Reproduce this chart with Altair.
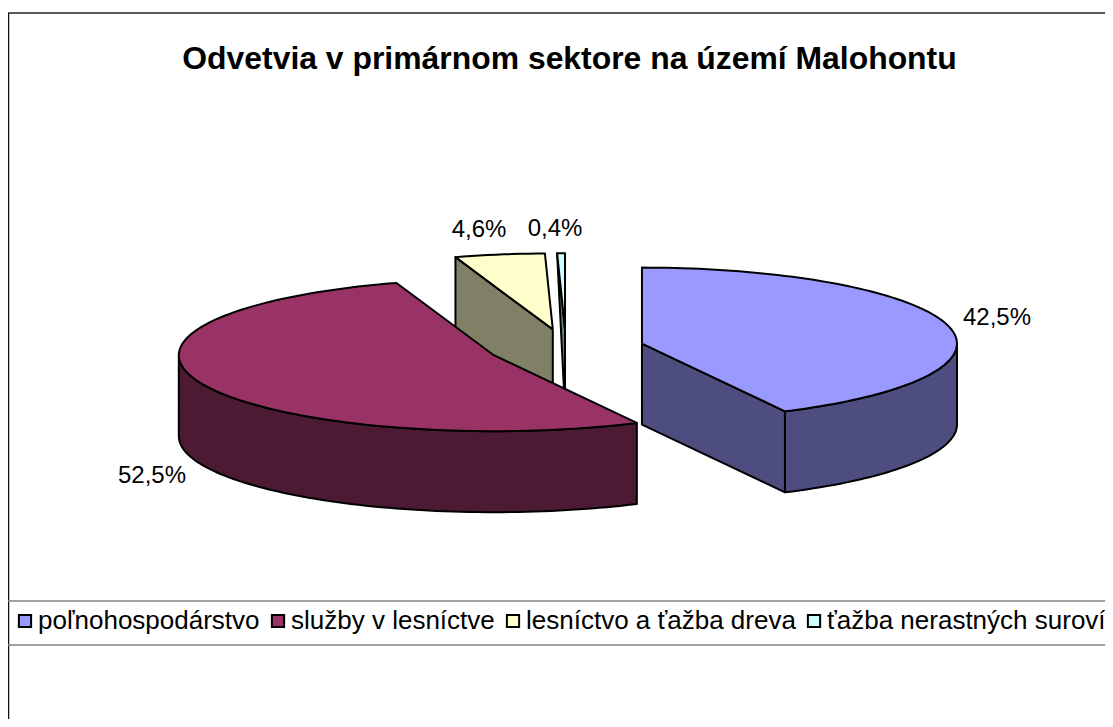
import math
import altair as alt
import pandas as pd

categories = ["poľnohospodárstvo", "služby v lesníctve", "lesníctvo a ťažba dreva", "ťažba nerastných surovín"]
shares = [42.5, 52.5, 4.6, 0.4]
top_colors = ["#9999FF", "#993366", "#FFFFCC", "#CCFFFF"]
wall_colors = ["#4D4D80", "#4D1A33", "#808066", "#668080"]
title_text = "Odvetvia v primárnom sektore na území Malohontu"
percent_labels = ["42,5%", "52,5%", "4,6%", "0,4%"]
label_x = [997, 152, 479, 555]
label_y = [318, 476, 230, 229]

# projection of the exploded 3-D pie
CX, CY, RX, RY, DEPTH, EXPLODE = 566, 348, 315, 76, 81, 0.248
W, H = 1097, 711


def pt(cx, cy, deg, r=1.0, dz=0):
    a = math.radians(deg)
    return (cx + RX * r * math.sin(a), cy - RY * r * math.cos(a) + dz)


starts, acc = [], 0.0
for s in shares:
    starts.append(acc)
    acc += s * 3.6

rows = []


def poly(name, series, points):
    pts = list(points) + [points[0]]
    for i, (x, y) in enumerate(pts):
        rows.append({"poly": name, "series": series, "i": i, "x": x, "y": y})


def arc(cx, cy, a0, a1, dz=0):
    n = max(2, int(abs(a1 - a0) / 1.5))
    return [pt(cx, cy, a0 + (a1 - a0) * k / n, dz=dz) for k in range(n + 1)]


for idx in [3, 2, 0, 1]:
    name = categories[idx]
    wall = name + " (stena)"
    a0 = starts[idx]
    a1 = a0 + shares[idx] * 3.6
    ax, ay = pt(CX, CY, (a0 + a1) / 2, EXPLODE)
    apex = (ax, ay)
    apex_low = (ax, ay + DEPTH)
    # cut faces turned to the viewer
    if idx == 0:
        p = pt(ax, ay, a1)
        poly(f"{idx}c1", wall, [apex, p, (p[0], p[1] + DEPTH), apex_low])
    if idx == 2:
        p = pt(ax, ay, a0)
        poly(f"{idx}c0", wall, [apex, p, (p[0], p[1] + DEPTH), apex_low])
    if idx == 3:
        p = pt(ax, ay, a0)
        poly(f"{idx}c0", wall, [apex, p, apex_low])
    # outer rim turned to the viewer
    r0, r1 = max(a0, 90), min(a1, 270)
    if r1 > r0:
        poly(f"{idx}r", wall, arc(ax, ay, r0, r1) + arc(ax, ay, r1, r0, DEPTH))
    # top face
    poly(f"{idx}t", name, [apex] + arc(ax, ay, a0, a1))

df = pd.DataFrame(rows)

x_scale = alt.Scale(domain=[8, 8 + W], range=[0, W], nice=False, zero=False)
y_scale = alt.Scale(domain=[8, 8 + H], range=[0, H], nice=False, zero=False)

fill_domain = categories + [c + " (stena)" for c in categories]
fill_range = top_colors + wall_colors

pie = alt.Chart(df).mark_line(stroke="black", strokeWidth=2, strokeJoin="round", clip=True).encode(
    x=alt.X("x:Q", scale=x_scale, axis=None),
    y=alt.Y("y:Q", scale=y_scale, axis=None),
    detail="poly:N",
    order="i:Q",
    fill=alt.Fill(
        "series:N",
        scale=alt.Scale(domain=fill_domain, range=fill_range),
        legend=alt.Legend(
            title=None,
            values=categories,
            orient="none",
            legendX=4,
            legendY=600,
            direction="horizontal",
            columns=4,
            gridAlign="none",
            columnPadding=5,
            symbolType="square",
            symbolSize=150,
            symbolStrokeColor="black",
            symbolStrokeWidth=2,
            symbolOpacity=1,
            labelFont="Liberation Sans",
            labelFontSize=26,
            labelColor="black",
            labelLimit=400,
            labelOffset=0,
        ),
    ),
)

labels = alt.Chart(pd.DataFrame({"t": percent_labels, "x": label_x, "y": label_y})).mark_text(
    font="Liberation Sans", fontSize=24, color="black"
).encode(x=alt.X("x:Q", scale=x_scale, axis=None), y=alt.Y("y:Q", scale=y_scale, axis=None), text="t:N")

frame_h = alt.Chart(pd.DataFrame({"y": [13]})).mark_rule(color="#222222", strokeWidth=1.5).encode(
    y=alt.Y("y:Q", scale=y_scale, axis=None), x=alt.value(0), x2=alt.value(W))
frame_v = alt.Chart(pd.DataFrame({"x": [8.5]})).mark_rule(color="#111111", strokeWidth=1.5).encode(
    x=alt.X("x:Q", scale=x_scale, axis=None), y=alt.value(5), y2=alt.value(H))
legend_lines = alt.Chart(pd.DataFrame({"y": [601, 645]})).mark_rule(color="#808080", strokeWidth=1.5).encode(
    y=alt.Y("y:Q", scale=y_scale, axis=None), x=alt.value(0), x2=alt.value(W))

chart = alt.layer(frame_h, frame_v, legend_lines, pie, labels).properties(
    width=W,
    height=H,
    padding=0,
    autosize=alt.AutoSizeParams(type="none"),
    title=alt.TitleParams(
        title_text, font="Liberation Sans", fontSize=31.9, fontWeight="bold", color="black",
        anchor="middle", dy=72, dx=13,
    ),
).configure_view(stroke=None)

chart.save("out.html", embed_options={"renderer": "svg", "actions": False})
